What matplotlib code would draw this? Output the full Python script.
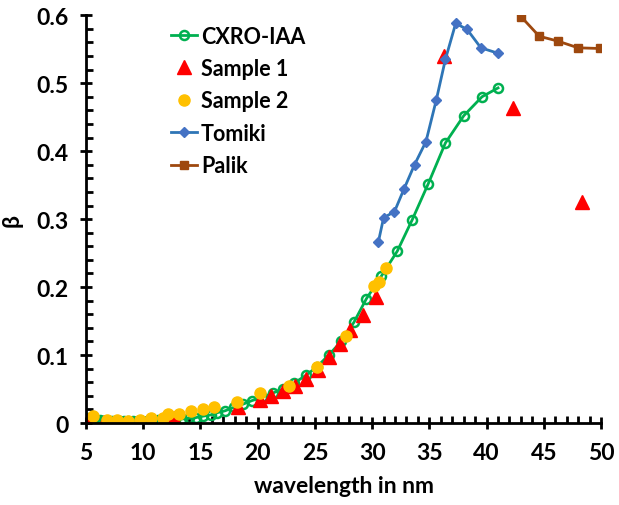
import matplotlib.pyplot as plt
from matplotlib.ticker import MultipleLocator

plt.rcParams['font.family'] = ['Lato', 'DejaVu Sans']
plt.rcParams['font.weight'] = 'bold'

# CXRO-IAA
cxro_x = [5.0, 5.2, 5.4, 5.6, 5.9, 6.2, 6.4, 6.7, 7.0, 7.3, 7.6, 8.0, 8.3, 8.7, 9.1,
          9.5, 9.9, 10.3, 10.8, 11.3, 11.8, 12.3, 12.8, 13.4, 14.0, 14.6, 15.2, 15.9,
          16.4, 17.15, 17.9, 18.75, 19.5, 20.4, 21.3, 22.2, 23.2, 24.2, 25.2, 26.2,
          27.3, 28.4, 29.5, 30.8, 32.2, 33.5, 34.9, 36.4, 38.0, 39.6, 41.0]
cxro_y = [0.008, 0.007, 0.006, 0.005, 0.004, 0.004, 0.003, 0.003, 0.003, 0.003, 0.003,
          0.003, 0.003, 0.003, 0.003, 0.003, 0.003, 0.003, 0.004, 0.004, 0.004, 0.004,
          0.005, 0.006, 0.007, 0.008, 0.010, 0.012, 0.015, 0.018, 0.023, 0.028, 0.033,
          0.038, 0.044, 0.050, 0.059, 0.070, 0.083, 0.100, 0.120, 0.148, 0.183, 0.216,
          0.253, 0.299, 0.352, 0.412, 0.452, 0.480, 0.493]

# Sample 1
s1_x = [5.2, 6.6, 12.7, 18.3, 20.2, 21.2, 22.25, 23.3, 24.2, 25.3, 26.2, 27.2, 28.1,
        29.2, 30.3, 36.3, 42.3, 48.3]
s1_y = [0.004, 0.002, 0.007, 0.024, 0.034, 0.040, 0.047, 0.055, 0.065, 0.078, 0.097,
        0.116, 0.137, 0.159, 0.186, 0.540, 0.464, 0.325]

# Sample 2
s2_x = [5.6, 6.8, 7.7, 8.7, 9.7, 10.7, 11.7, 12.2, 13.1, 14.2, 15.2, 16.2, 18.2, 20.2,
        22.7, 25.2, 27.7, 30.2, 30.6, 31.2]
s2_y = [0.010, 0.005, 0.004, 0.003, 0.005, 0.008, 0.007, 0.013, 0.013, 0.017, 0.020,
        0.024, 0.031, 0.044, 0.055, 0.082, 0.128, 0.202, 0.207, 0.228]

# Tomiki
tom_x = [30.55, 31.0, 31.95, 32.8, 33.7, 34.7, 35.6, 36.4, 37.3, 38.3, 39.5, 41.0]
tom_y = [0.267, 0.302, 0.311, 0.345, 0.380, 0.414, 0.475, 0.535, 0.588, 0.579, 0.552, 0.544]

# Palik
pal_x = [43.0, 44.6, 46.2, 48.0, 49.9]
pal_y = [0.598, 0.569, 0.562, 0.552, 0.551]

fig = plt.figure(figsize=(6.19, 5.06), dpi=100)
ax = fig.add_axes([0.139, 0.162, 0.832, 0.806])

ax.plot(cxro_x, cxro_y, color='#00B050', lw=2, marker='o', ms=6.5,
        mfc='none', mec='#00B050', mew=1.8, label='CXRO-IAA')
ax.plot(s1_x, s1_y, linestyle='none', marker='^', ms=10, color='#FF0000',
        label='Sample 1')
ax.plot(s2_x, s2_y, linestyle='none', marker='o', ms=8, color='#FFC000',
        label='Sample 2')
ax.plot(tom_x, tom_y, color='#2E75B6', lw=2, marker='D', ms=5.5,
        mfc='#4472C4', mec='#4472C4', label='Tomiki')
ax.plot(pal_x, pal_y, color='#9E480E', lw=2, marker='s', ms=6,
        mfc='#9E480E', mec='#9E480E', label='Palik')

ax.set_xlim(5, 50)
ax.set_ylim(0, 0.6)
ax.xaxis.set_major_locator(MultipleLocator(5))
ax.xaxis.set_minor_locator(MultipleLocator(1))
ax.yaxis.set_major_locator(MultipleLocator(0.1))
ax.yaxis.set_minor_locator(MultipleLocator(0.02))
ax.set_yticks([0, 0.1, 0.2, 0.3, 0.4, 0.5, 0.6])
ax.set_yticklabels(['0', '0.1', '0.2', '0.3', '0.4', '0.5', '0.6'])

for side in ['top', 'right']:
    ax.spines[side].set_visible(False)
for side in ['left', 'bottom']:
    ax.spines[side].set_linewidth(2)
ax.tick_params(which='major', direction='inout', length=9, width=2,
               labelsize=16.5)
ax.tick_params(axis='x', which='major', pad=9)
ax.tick_params(axis='y', which='major', pad=8)
ax.tick_params(which='minor', direction='in', length=5, width=2)
for lab in ax.get_xticklabels() + ax.get_yticklabels():
    lab.set_fontweight('bold')

ax.set_xlabel('wavelength in nm', fontsize=16.5, fontweight='bold', labelpad=9)
ax.set_ylabel('β', fontsize=16.5, fontweight='bold', labelpad=10)

ax.legend(loc='upper left', bbox_to_anchor=(0.127, 1.022), frameon=False,
          prop={'size': 15.5, 'weight': 'bold'}, handlelength=1.2,
          handletextpad=0.2, labelspacing=0.53)

fig.savefig('out.png', dpi=100)
